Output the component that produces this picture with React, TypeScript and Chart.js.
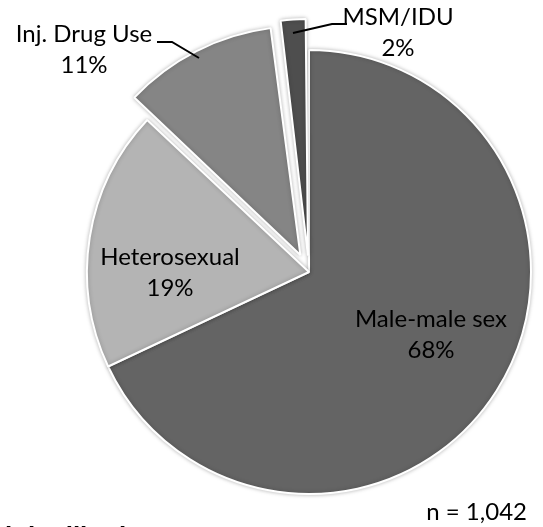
import React, { useEffect, useRef } from "react";
import { Chart, registerables } from "chart.js";

Chart.register(...registerables);

const categories = ["Male-male sex", "Heterosexual", "Inj. Drug Use", "MSM/IDU"];
const percentValues = [68, 19, 11, 2];
const sliceColors = ["#646464", "#b4b4b4", "#858585", "#4e4e4e"];
// Chart.js draws an arc offset of N as a shift of N/4 pixels
const sliceOffsets = [0, 0, 76, 66];
const sampleNote = "n = 1,042";
const footerTitle = "h in Illinois, 2009";

// label layout, relative to pie centre (line-1 baseline, centred)
const labelLayout = [
  { dx: 122, dy: 55 },
  { dx: -139, dy: -7 },
  { dx: -225, dy: -230 },
  { dx: 89, dy: -247 },
];
// leader lines for outside labels, relative to pie centre
const leaderLines: Array<Array<[number, number]> | null> = [
  null,
  null,
  [[-152, -230], [-137, -230], [-110, -214]],
  [[-16, -239], [23, -248], [38, -248]],
];

const LABEL_FONT = "24px Lato, 'Open Sans', sans-serif";
const LINE_GAP = 31;

const labelPlugin = {
  id: "pieLabels",
  beforeDatasetsDraw(chart: any) {
    const ctx = chart.ctx;
    ctx.save();
    ctx.shadowColor = "rgba(0,0,0,0.25)";
    ctx.shadowBlur = 4;
  },
  afterDatasetsDraw(chart: any) {
    chart.ctx.restore();
  },
  afterDraw(chart: any) {
    const ctx = chart.ctx;
    const meta = chart.getDatasetMeta(0);
    const arc0 = meta.data[0];
    const cx = arc0.x;
    const cy = arc0.y;
    ctx.save();
    ctx.fillStyle = "#000";
    ctx.strokeStyle = "#000";
    ctx.lineWidth = 2;
    ctx.font = LABEL_FONT;
    ctx.textAlign = "center";
    ctx.textBaseline = "alphabetic";
    categories.forEach((cat, i) => {
      const l = labelLayout[i];
      const x = cx + l.dx;
      const y = cy + l.dy;
      ctx.fillText(cat, x, y);
      ctx.fillText(percentValues[i] + "%", x, y + LINE_GAP);
      const ll = leaderLines[i];
      if (ll) {
        ctx.beginPath();
        ll.forEach(([px, py], k) => {
          if (k === 0) ctx.moveTo(cx + px, cy + py);
          else ctx.lineTo(cx + px, cy + py);
        });
        ctx.stroke();
      }
    });
    ctx.textAlign = "right";
    ctx.font = LABEL_FONT;
    ctx.fillText(sampleNote, 527, 520);
    ctx.textAlign = "left";
    ctx.font = "bold 26px 'Liberation Sans', Arial, sans-serif";
    ctx.fillText(footerTitle, 5, 545);
    ctx.restore();
  },
};

export default function App() {
  const ref = useRef<HTMLCanvasElement>(null);
  useEffect(() => {
    if (!ref.current) return;
    const chart = new Chart(ref.current, {
      type: "pie",
      data: {
        labels: categories,
        datasets: [
          {
            data: percentValues,
            backgroundColor: sliceColors,
            borderColor: "#ffffff",
            borderWidth: 2,
            offset: sliceOffsets,
          },
        ],
      },
      options: {
        responsive: false,
        animation: false,
        radius: 222,
        layout: { padding: { left: 80, right: 5, top: 20, bottom: 3 } },
        plugins: {
          legend: { display: false },
          tooltip: { enabled: false },
        },
      } as any,
      plugins: [labelPlugin],
    });
    return () => chart.destroy();
  }, []);
  return (
    <div style={{ position: "absolute", left: 0, top: 0, width: 543, height: 527, background: "#fff" }}>
      <canvas ref={ref} width={543} height={527} />
    </div>
  );
}
